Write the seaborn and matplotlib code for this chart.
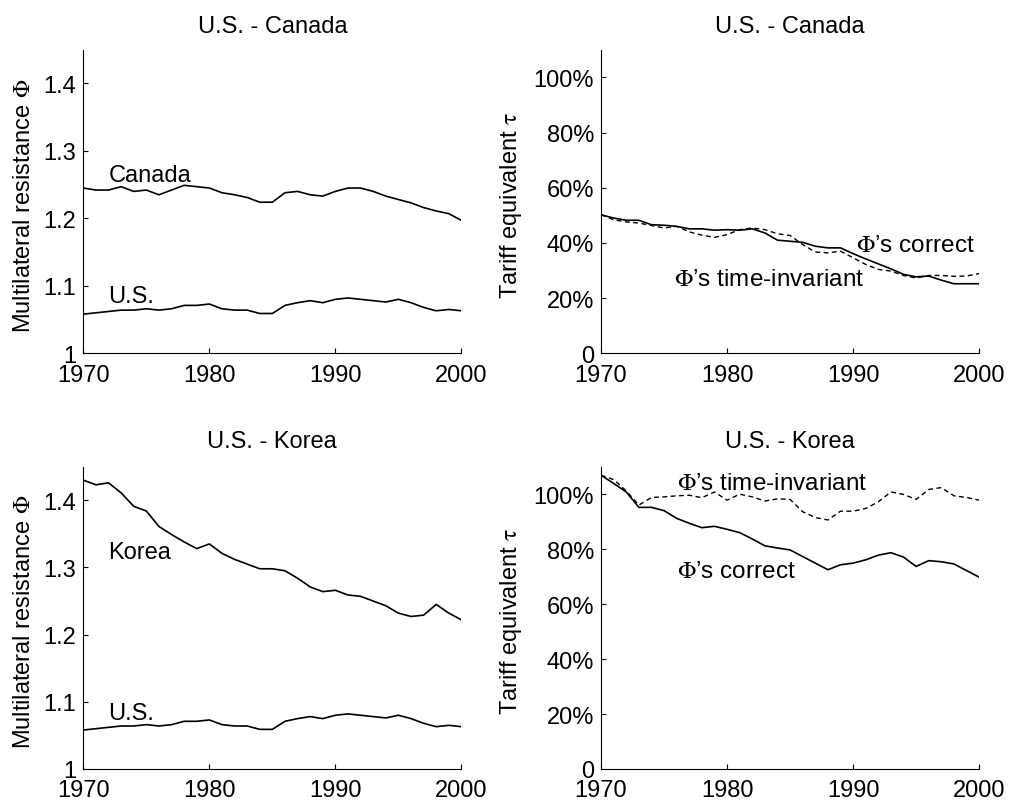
import pandas as pd
import seaborn as sb
import matplotlib.pyplot as plt
import matplotlib.ticker as mticker

years = list(range(1970, 2001))

# multilateral resistance
canada = [1.245, 1.242, 1.242, 1.247, 1.240, 1.242, 1.235, 1.242, 1.249, 1.247, 1.245,
          1.238, 1.235, 1.231, 1.224, 1.224, 1.238, 1.240, 1.235, 1.233, 1.240,
          1.245, 1.245, 1.240, 1.233, 1.228, 1.223, 1.216, 1.211, 1.207, 1.197]
us = [1.058, 1.060, 1.062, 1.064, 1.064, 1.066, 1.064, 1.066, 1.071, 1.071, 1.073,
      1.066, 1.064, 1.064, 1.059, 1.059, 1.071, 1.075, 1.078, 1.075, 1.080,
      1.082, 1.080, 1.078, 1.076, 1.080, 1.075, 1.068, 1.063, 1.065, 1.063]
korea = [1.430, 1.423, 1.426, 1.411, 1.391, 1.384, 1.361, 1.349, 1.338, 1.328, 1.335,
         1.321, 1.312, 1.305, 1.298, 1.298, 1.295, 1.284, 1.271, 1.264, 1.266,
         1.259, 1.257, 1.250, 1.243, 1.232, 1.227, 1.229, 1.245, 1.232, 1.222]

# tariff equivalents, %
can_correct = [50.2, 49.0, 48.2, 48.2, 46.6, 46.4, 46.0, 45.1, 45.1, 44.6, 44.8,
               44.6, 45.1, 43.6, 41.0, 40.6, 40.2, 38.8, 38.2, 38.2, 36.1,
               34.2, 32.4, 30.6, 28.6, 27.7, 28.0, 26.5, 25.2, 25.2, 25.2]
can_invariant = [50.2, 48.4, 47.6, 47.2, 46.3, 45.4, 46.0, 44.0, 42.8, 42.0, 43.0,
                 44.8, 45.4, 44.8, 43.3, 42.7, 39.4, 36.7, 36.4, 37.0, 34.6,
                 32.2, 30.4, 29.8, 28.2, 27.3, 28.2, 28.2, 27.9, 28.0, 28.9]
kor_correct = [106.9, 103.9, 100.8, 95.2, 95.2, 94.0, 91.2, 89.4, 87.8, 88.3, 87.2,
               86.0, 83.7, 81.2, 80.4, 79.7, 77.3, 74.9, 72.5, 74.3, 74.9,
               76.1, 77.8, 78.7, 77.1, 73.7, 75.8, 75.4, 74.6, 72.2, 69.8]
kor_invariant = [106.9, 105.3, 101.2, 96.0, 98.8, 99.0, 99.4, 99.6, 98.7, 100.8, 97.8,
                 100.0, 99.0, 97.5, 98.3, 98.1, 93.6, 91.5, 90.6, 93.8, 93.8,
                 94.8, 97.2, 100.8, 99.9, 98.1, 101.7, 102.4, 99.4, 98.8, 97.8]

x_ticks = [1970, 1980, 1990, 2000]
phi_ticks = [1, 1.1, 1.2, 1.3, 1.4]
tau_ticks = [0, 20, 40, 60, 80, 100]

sb.set_style('ticks')
plt.rcParams['font.family'] = ['Liberation Sans', 'DejaVu Sans']
plt.rcParams['mathtext.fontset'] = 'stix'
plt.rcParams['font.size'] = 17
plt.rcParams['xtick.direction'] = 'in'
plt.rcParams['ytick.direction'] = 'in'
for k in ['text.color', 'axes.labelcolor', 'xtick.color', 'ytick.color', 'axes.edgecolor']:
    plt.rcParams[k] = 'black'

fig = plt.figure(figsize=(10.11, 8.03), dpi=100, facecolor='white')

W = 0.374
ax_tl = fig.add_axes([0.0824, 0.5588, W, 0.378])
ax_tr = fig.add_axes([0.5945, 0.5588, W, 0.378])
ax_bl = fig.add_axes([0.0824, 0.0411, W, 0.3765])
ax_br = fig.add_axes([0.5945, 0.0411, W, 0.3765])


def style(ax, title, pad):
    ax.set_xlim(1970, 2000)
    ax.set_xticks(x_ticks)
    ax.set_title(title, fontsize=17, pad=pad, color='black')
    sb.despine(ax=ax)
    for s in ['left', 'bottom']:
        ax.spines[s].set_linewidth(0.8)
        ax.spines[s].set_color('black')
    ax.tick_params(length=3.5, width=0.8, labelsize=17, color='black', labelcolor='black')
    ax.tick_params(axis='x', pad=7.5)
    ax.tick_params(axis='y', pad=5)
    ax.set_xlabel('')


def phi_axis(ax):
    ax.set_ylim(1, 1.45)
    ax.set_yticks(phi_ticks)
    ax.set_yticklabels(['1', '1.1', '1.2', '1.3', '1.4'])
    ax.set_ylabel(r'Multilateral resistance $\Phi$', fontsize=17, va='center', color='black')
    ax.yaxis.set_label_coords(-0.157, 0.49)


def tau_axis(ax):
    ax.set_ylim(0, 110)
    ax.set_yticks(tau_ticks)
    ax.yaxis.set_major_formatter(mticker.FuncFormatter(lambda v, p: '0' if v == 0 else f'{v:.0f}%'))
    ax.set_ylabel(r'Tariff equivalent $\mathrm{\tau}$', fontsize=17, va='center', color='black')
    ax.yaxis.set_label_coords(-0.238, 0.49)


solid = dict(color='black', lw=1.2)
dashed = dict(color='black', lw=1.0, linestyle=(0, (3.5, 2.5)))

# U.S. - Canada, resistance
sb.lineplot(x=years, y=canada, ax=ax_tl, **solid)
sb.lineplot(x=years, y=us, ax=ax_tl, **solid)
style(ax_tl, 'U.S. - Canada', 12.7)
phi_axis(ax_tl)
ax_tl.text(1972, 1.256, 'Canada', fontsize=17)
ax_tl.text(1972, 1.076, 'U.S.', fontsize=17)

# U.S. - Canada, tariff equivalent
sb.lineplot(x=years, y=can_correct, ax=ax_tr, **solid)
sb.lineplot(x=years, y=can_invariant, ax=ax_tr, **dashed)
style(ax_tr, 'U.S. - Canada', 12.7)
tau_axis(ax_tr)
ax_tr.text(1990.2, 37, '$\\Phi$’s correct', fontsize=17.5)
ax_tr.text(1975.8, 24.6, '$\\Phi$’s time-invariant', fontsize=17.5)

# U.S. - Korea, resistance
sb.lineplot(x=years, y=korea, ax=ax_bl, **solid)
sb.lineplot(x=years, y=us, ax=ax_bl, **solid)
style(ax_bl, 'U.S. - Korea', 14.2)
phi_axis(ax_bl)
ax_bl.text(1972, 1.314, 'Korea', fontsize=17)
ax_bl.text(1972, 1.074, 'U.S.', fontsize=17)

# U.S. - Korea, tariff equivalent
sb.lineplot(x=years, y=kor_correct, ax=ax_br, **solid)
sb.lineplot(x=years, y=kor_invariant, ax=ax_br, **dashed)
style(ax_br, 'U.S. - Korea', 14.2)
tau_axis(ax_br)
ax_br.text(1976, 102, '$\\Phi$’s time-invariant', fontsize=17.5)
ax_br.text(1976, 70, '$\\Phi$’s correct', fontsize=17.5)

fig.savefig('out.png', dpi=100)
